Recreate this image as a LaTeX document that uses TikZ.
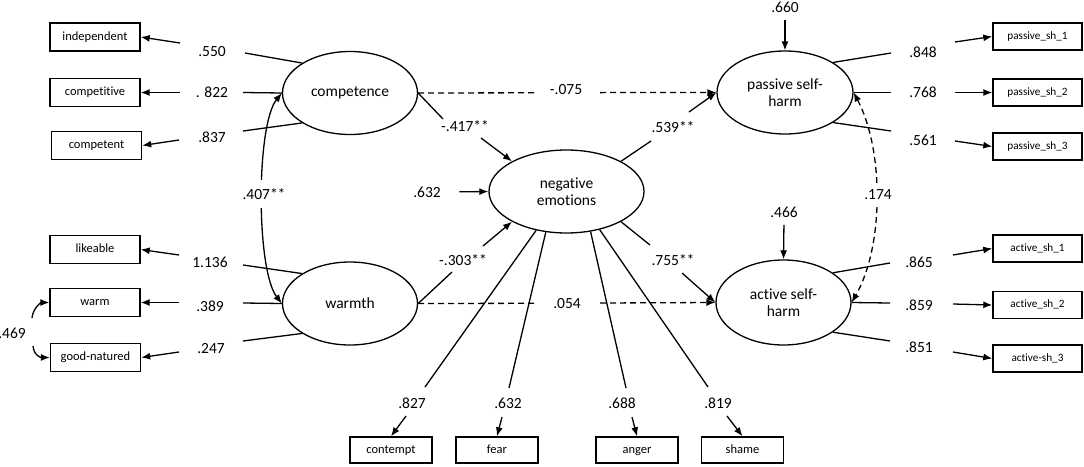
\documentclass[tikz,border=0pt]{standalone}
\usepackage{fontspec}
\setmainfont{Carlito}[Ligatures={NoCommon}]
\usetikzlibrary{arrows.meta,shapes.geometric}
\begin{document}
\begin{tikzpicture}[x=1pt,y=-1pt,line width=1.3pt,
  >={Latex[length=9pt,width=7pt]},
  lbox/.style={draw, rectangle, minimum width=90pt, minimum height=28pt, inner sep=0pt,
    line width=1.4pt, text height=8.8pt, text depth=2.6pt, font=\fontsize{12.5}{14}\selectfont},
  rbox/.style={lbox, minimum width=89pt, minimum height=27pt, text height=7.9pt, text depth=2.4pt,
    font=\fontsize{11.2}{13}\selectfont},
  bbox/.style={lbox, minimum width=82pt, minimum height=26pt},
  lat/.style={draw, ellipse, minimum width=135pt, minimum height=83pt, inner sep=0pt,
    align=center, font=\fontsize{15.5}{17}\selectfont},
  num/.style={inner sep=2pt, font=\fontsize{15.5}{17}\selectfont},
  dsh/.style={dash pattern=on 6pt off 4pt},
]
\useasboundingbox (0,0) rectangle (1084,466);

% ---------- indicator boxes ----------
\node[lbox] (ind) at (95,37) {independent};
\node[lbox] (cpt) at (95,92.5) {competitive};
\node[lbox] (cpn) at (96.5,145.5) {competent};
\node[lbox] (lik) at (95,249.5) {likeable};
\node[lbox] (wrm) at (95,302.5) {warm};
\node[lbox] (gdn) at (95.5,357.5) {good-natured};

\node[rbox] (ps1) at (1037.5,36.5) {passive\_sh\_1};
\node[rbox] (ps2) at (1037.5,92.5) {passive\_sh\_2};
\node[rbox] (ps3) at (1037.5,146.5) {passive\_sh\_3};
\node[rbox] (as1) at (1037.5,248.5) {active\_sh\_1};
\node[rbox] (as2) at (1037.5,305) {active\_sh\_2};
\node[rbox] (as3) at (1037.5,358.5) {active-sh\_3};

\node[bbox] (con) at (391,450) {contempt};
\node[bbox] (fea) at (497,450) {fear};
\node[bbox] (ang) at (637,450) {anger};
\node[bbox] (sha) at (742.5,450) {shame};

% ---------- latent variables ----------
\node[lat] (comp) at (350,93) {competence};
\node[lat] (warm) at (350,303.5) {warmth};
\node[lat, minimum width=155pt] (neg) at (566.5,191.5) {negative\\emotions};
\node[lat, minimum width=136pt] (pas) at (785,92.5) {passive self-\\harm};
\node[lat, minimum height=85pt] (act) at (783.5,302.5) {active self-\\harm};

% ---------- loadings: competence ----------
\node[num] (l550) at (212,52) {.550};
\coordinate (a550) at (245,53); \coordinate (b550) at (180,43);
\draw (comp.148) -- (a550); \draw[->] (b550) -- (ind.east);

\node[num] (l822) at (212,92) {. 822};
\coordinate (a822) at (243,92.5); \coordinate (b822) at (180,92.5);
\draw (comp.west) -- (a822); \draw[->] (b822) -- (cpt.east);

\node[num] (l837) at (212,137) {.837};
\coordinate (a837) at (243,131); \coordinate (b837) at (179,140);
\draw (comp.212) -- (a837); \draw[->] (b837) -- (cpn.east);

% ---------- loadings: warmth ----------
\node[num] (l1136) at (210,262) {1.136};
\coordinate (a1136) at (243,265); \coordinate (b1136) at (179,255);
\draw (warm.148) -- (a1136); \draw[->] (b1136) -- (lik.east);

\node[num] (l389) at (210,306) {.389};
\coordinate (a389) at (243,303); \coordinate (b389) at (179,302.5);
\draw (warm.west) -- (a389); \draw[->] (b389) -- (wrm.east);

\node[num] (l247) at (211,349) {.247};
\coordinate (a247) at (243,341); \coordinate (b247) at (179,352);
\draw (warm.212) -- (a247); \draw[->] (b247) -- (gdn.east);

% ---------- covariances ----------
\draw[<->] (comp.west) .. controls (256,125) and (256,270) .. (warm.west);
\node[num, fill=white, minimum height=28pt] (l407) at (264,194) {.407**};

\node[num] (l469) at (12,333) {.469};
\coordinate (a469) at (32,318); \coordinate (b469) at (33,346);
\draw[->] (a469) .. controls (33,308) and (41,302.5) .. (wrm.west);
\draw[->] (b469) .. controls (34,356) and (41,357.5) .. (gdn.west);

\draw[dsh,<->] (pas.east) .. controls (884,150) and (884,246) .. (act.east);
\node[num, fill=white, minimum height=24pt] (l174) at (878,195) {.174};

% ---------- structural paths ----------
\node[num] (l075) at (566,90) {-.075};
\coordinate (a075) at (535,92.8); \coordinate (b075) at (600,92.6);
\draw[dsh] (comp.east) -- (a075); \draw[dsh,->] (b075) -- (pas.west);

\node[num] (l417) at (465,126) {-.417**};
\coordinate (a417) at (443,119); \coordinate (b417) at (481,138);
\draw (comp.east) -- (a417); \draw[->] (b417) -- (neg.151);

\node[num] (l303) at (463,260) {-.303**};
\coordinate (a303) at (452,272); \coordinate (b303) at (483,246);
\draw (warm.east) -- (a303); \draw[->] (b303) -- (neg.209);

\node[num] (l539) at (673,127) {.539**};
\coordinate (a539) at (651,141); \coordinate (b539) at (689,112);
\draw (neg.29) -- (a539); \draw[->] (b539) -- (pas.west);

\node[num] (l755) at (673,260) {.755**};
\coordinate (a755) at (650,245); \coordinate (b755) at (682,273);
\draw (neg.-29) -- (a755); \draw[->] (b755) -- (act.west);

\node[num] (l054) at (567,304) {.054};
\coordinate (a054) at (536,303.3); \coordinate (b054) at (600,303);
\draw[dsh] (warm.east) -- (a054); \draw[dsh,->] (b054) -- (act.west);

% ---------- residuals ----------
\node[num] (l660) at (785,7) {.660};
\draw[->, shorten <=5pt] (l660.south) -- (pas.north);
\node[num] (l466) at (784,212) {.466};
\draw[->, shorten <=5pt] (l466.south) -- (act.north);
\node[num] (l632r) at (427,192) {.632};
\draw[->, shorten <=16pt] (l632r.east) -- (neg.west);

% ---------- negative emotions indicators ----------
\node[num] (l827) at (412,403) {.827};
\coordinate (a827) at (425,387); \coordinate (b827) at (406,416);
\draw (neg.232) -- (a827); \draw[->] (b827) -- (con.north);

\node[num] (l632) at (508,403) {.632};
\coordinate (a632) at (509,388); \coordinate (b632) at (502,417);
\draw (neg.243) -- (a632); \draw[->] (b632) -- (fea.north);

\node[num] (l688) at (622,403) {.688};
\coordinate (a688) at (626,388); \coordinate (b688) at (632,417);
\draw (neg.301) -- (a688); \draw[->] (b688) -- (ang.north);

\node[num] (l819) at (718,403) {.819};
\coordinate (a819) at (708,387); \coordinate (b819) at (727,416);
\draw (neg.311) -- (a819); \draw[->] (b819) -- (sha.north);

% ---------- loadings: passive self-harm ----------
\node[num] (l848) at (923,52) {.848};
\coordinate (a848) at (891,53); \coordinate (b848) at (955,42);
\draw (pas.32) -- (a848); \draw[->] (b848) -- (ps1.west);

\node[num] (l768) at (923,92) {.768};
\coordinate (a768) at (891,92.5); \coordinate (b768) at (955,92.5);
\draw (pas.east) -- (a768); \draw[->] (b768) -- (ps2.west);

\node[num] (l561) at (923,140) {.561};
\coordinate (a561) at (891,131); \coordinate (b561) at (955,141);
\draw (pas.-32) -- (a561); \draw[->] (b561) -- (ps3.west);

% ---------- loadings: active self-harm ----------
\node[num] (l865) at (919,262) {.865};
\coordinate (a865) at (890,263); \coordinate (b865) at (953,255);
\draw (act.31) -- (a865); \draw[->] (b865) -- (as1.west);

\node[num] (l859) at (919,305) {.859};
\coordinate (a859) at (890,303); \coordinate (b859) at (953,304);
\draw (act.east) -- (a859); \draw[->] (b859) -- (as2.west);

\node[num] (l851) at (919,347) {.851};
\coordinate (a851) at (890,341); \coordinate (b851) at (953,352);
\draw (act.-31) -- (a851); \draw[->] (b851) -- (as3.west);
\end{tikzpicture}
\end{document}
